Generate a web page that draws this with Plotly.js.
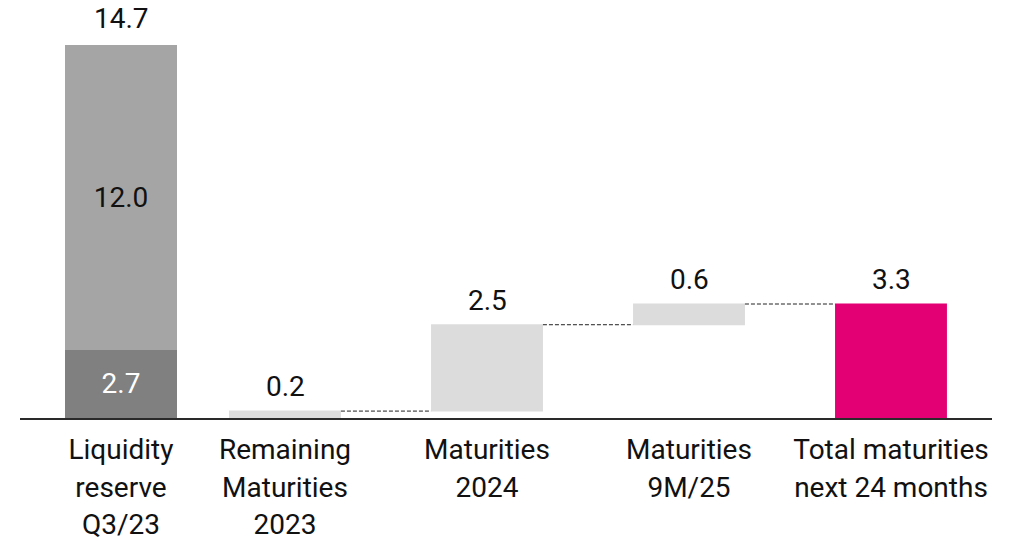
<!DOCTYPE html>
<html><head><meta charset="utf-8">
<script src="https://cdn.plot.ly/plotly-3.0.1.min.js"></script>
<style>html,body{margin:0;padding:0;background:#fff;}</style>
</head><body>
<div id="chart" style="width:1015px;height:541px;"></div>
<script>
// ---- data ----
const reserveCategory = ['Liquidity reserve Q3/23'];
const reserveTickLines = [['Liquidity', 'reserve', 'Q3/23']];
const reservePartNames = ['Part A', 'Part B'];
const reserveParts = [2.7, 12.0];

const maturityCategories = ['Remaining Maturities 2023', 'Maturities 2024', 'Maturities 9M/25', 'Total maturities next 24 months'];
const maturityTickLines = [['Remaining', 'Maturities', '2023'], ['Maturities', '2024'], ['Maturities', '9M/25'], ['Total maturities', 'next 24 months']];
const maturityValues = [0.2, 2.5, 0.6, 0];
const maturityMeasures = ['relative', 'relative', 'relative', 'total'];

// ---- styles ----
const FONT = 'Roboto, "Noto Sans", sans-serif';
const FS = 28;
const reserveColors = ['#808080', '#a5a5a5'];
const reserveTextColors = ['#ffffff', '#111111'];
const stepColor = '#dcdcdc';
const totalColor = '#e20074';
const W = 1015, H = 541;

function tickText(lines) {
  return lines.map(l => '<span style="font-size:' + FS + 'px">' + l + '</span>').join('<br>');
}

const traces = [];
const annotations = [];

reserveParts.forEach((v, i) => {
  traces.push({
    type: 'bar', name: reservePartNames[i], x: reserveCategory, y: [v],
    xaxis: 'x2', yaxis: 'y2', width: 0.554,
    marker: {color: reserveColors[i], line: {width: 0}},
    text: [v.toFixed(1)], textposition: 'inside', insidetextanchor: 'middle',
    constraintext: 'none',
    textfont: {family: FONT, size: FS, color: reserveTextColors[i]},
    hoverinfo: 'skip', showlegend: false
  });
});
const reserveTotal = reserveParts.reduce((a, b) => a + b, 0);
annotations.push({
  xref: 'x2', yref: 'y2', x: reserveCategory[0], y: reserveTotal,
  text: reserveTotal.toFixed(1), showarrow: false, yanchor: 'bottom', yshift: 8,
  font: {family: FONT, size: FS, color: '#111111'}
});

let running = 0;
maturityValues.forEach((v, i) => {
  let label;
  if (maturityMeasures[i] === 'total') { label = running.toFixed(1); }
  else { running += v; label = v.toFixed(1); }
  annotations.push({
    xref: 'x', yref: 'y', x: maturityCategories[i], y: running,
    text: label, showarrow: false, yanchor: 'bottom', yshift: 6,
    font: {family: FONT, size: FS, color: '#111111'}
  });
});

traces.push({
  type: 'waterfall', x: maturityCategories, y: maturityValues, measure: maturityMeasures,
  width: 0.554,
  increasing: {marker: {color: stepColor, line: {width: 0}}},
  decreasing: {marker: {color: stepColor, line: {width: 0}}},
  totals: {marker: {color: totalColor, line: {width: 0}}},
  connector: {mode: 'between', line: {color: '#222', width: 1, dash: '4px,2px'}},
  textposition: 'none',
  hoverinfo: 'skip', showlegend: false
});

const axisLine = {showline: true, linecolor: '#2a2a2a', linewidth: 2, ticks: '', showgrid: false, zeroline: false,
  tickfont: {family: FONT, size: 29, color: '#111111'}, ticklabelstandoff: 4};

const layout = {
  width: W, height: H,
  margin: {l: 0, r: 0, t: 0, b: 123},
  paper_bgcolor: '#ffffff', plot_bgcolor: 'rgba(0,0,0,0)',
  font: {family: FONT, size: FS, color: '#111111'},
  barmode: 'stack', showlegend: false,
  annotations: annotations,
  xaxis: Object.assign({}, axisLine, {domain: [184 / W, 992 / W], anchor: 'y', type: 'category',
    range: [-0.5, 3.5], tickmode: 'array', tickvals: maturityCategories,
    ticktext: maturityTickLines.map(tickText)}),
  yaxis: {domain: [0, 1], range: [0, 12.10], visible: false, fixedrange: true},
  xaxis2: Object.assign({}, axisLine, {domain: [20 / W, 222 / W], anchor: 'y2', type: 'category',
    range: [-0.5, 0.5], tickmode: 'array', tickvals: reserveCategory,
    ticktext: reserveTickLines.map(tickText)}),
  yaxis2: {domain: [0, 1], range: [0, 16.48], visible: false, anchor: 'x2', fixedrange: true}
};

Plotly.newPlot('chart', traces, layout, {displayModeBar: false, staticPlot: true});
</script>
</body></html>
